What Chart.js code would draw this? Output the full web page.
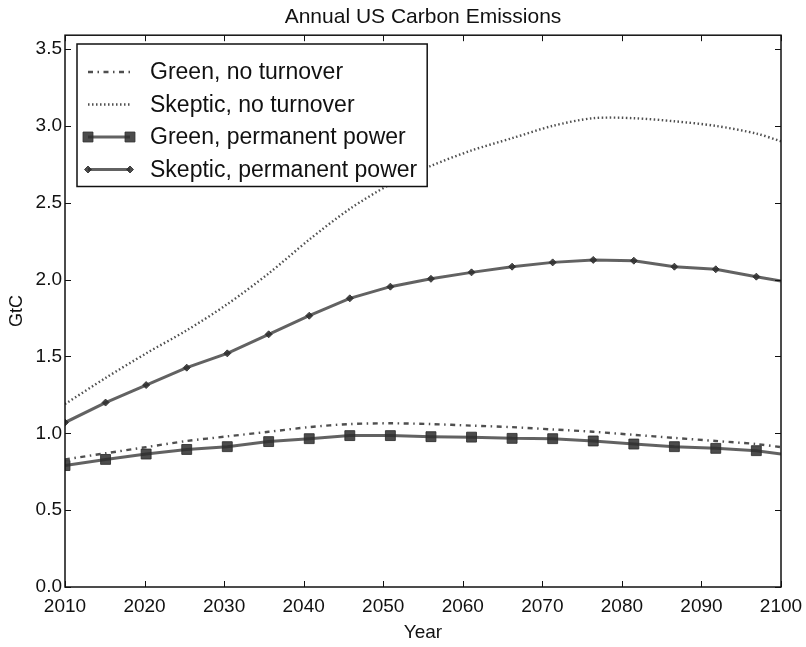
<!DOCTYPE html>
<html>
<head>
<meta charset="utf-8">
<title>Annual US Carbon Emissions</title>
<script src="https://cdn.jsdelivr.net/npm/chart.js@4.4.0/dist/chart.umd.min.js"></script>
<style>
  html, body { margin: 0; padding: 0; background: #fff; }
  #wrap { width: 806px; height: 647px; }
</style>
</head>
<body>
<div id="wrap"><canvas id="chart" width="806" height="647"></canvas></div>
<script>
// model output years (sample points of the runs)
const years = [2010, 2015.1, 2020.2, 2025.3, 2030.4, 2035.6, 2040.7, 2045.8, 2050.9, 2056.0,
  2061.1, 2066.2, 2071.3, 2076.4, 2081.5, 2086.6, 2091.8, 2096.9, 2100];

// annual emissions, GtC
const greenNoTurnover = [0.83, 0.87, 0.91, 0.95, 0.98, 1.01, 1.04, 1.06, 1.065, 1.06,
  1.05, 1.04, 1.025, 1.01, 0.99, 0.97, 0.95, 0.93, 0.91];
const skepticNoTurnover = [1.19, 1.36, 1.52, 1.67, 1.84, 2.04, 2.26, 2.46, 2.62, 2.74,
  2.84, 2.92, 3.00, 3.05, 3.05, 3.03, 3.00, 2.95, 2.90];
const greenPermanent = [0.79, 0.83, 0.865, 0.895, 0.913, 0.946, 0.965, 0.985, 0.985, 0.978,
  0.975, 0.967, 0.965, 0.95, 0.93, 0.913, 0.902, 0.887, 0.865];
const skepticPermanent = [1.07, 1.20, 1.314, 1.427, 1.52, 1.644, 1.765, 1.878, 1.954, 2.005,
  2.047, 2.084, 2.112, 2.128, 2.123, 2.084, 2.067, 2.019, 1.99];

const seriesLabels = ['Green, no turnover', 'Skeptic, no turnover',
  'Green, permanent power', 'Skeptic, permanent power'];

const yTicksShown = [0, 0.5, 1.0, 1.5, 2.0, 2.5, 3.0, 3.5];

const FONT = '"Liberation Sans", Arial, Helvetica, sans-serif';
const lineGray = 'rgba(70,70,70,0.85)';
const markGray = 'rgba(45,45,45,0.85)';

function pairs(ys) {
  return years.map((x, i) => ({ x: x, y: ys[i] }));
}

// the final sample point carries no marker
const markerRadius = r => ctx => (ctx.dataIndex === years.length - 1 ? 0 : r);

// boxed frame with inward ticks on all four sides
const framePlugin = {
  id: 'frame',
  afterDatasetsDraw(chart) {
    const { ctx, chartArea: a, scales } = chart;
    const len = 6;
    ctx.save();
    ctx.strokeStyle = '#111';
    ctx.lineWidth = 1;
    ctx.beginPath();
    scales.x.ticks.forEach(t => {
      const px = Math.round(scales.x.getPixelForValue(t.value)) + 0.5;
      ctx.moveTo(px, a.bottom); ctx.lineTo(px, a.bottom - len);
      ctx.moveTo(px, a.top); ctx.lineTo(px, a.top + len);
    });
    scales.y.ticks.forEach(t => {
      const py = Math.round(scales.y.getPixelForValue(t.value)) + 0.5;
      ctx.moveTo(a.left, py); ctx.lineTo(a.left + len, py);
      ctx.moveTo(a.right, py); ctx.lineTo(a.right - len, py);
    });
    ctx.stroke();
    ctx.lineWidth = 1.5;
    ctx.strokeRect(a.left, a.top, a.right - a.left, a.bottom - a.top);
    ctx.restore();
  }
};

function drawMarker(ctx, ds, x, y) {
  const r = typeof ds.pointRadius === 'function' ? ds.pointRadius({ dataIndex: 0 }) : ds.pointRadius;
  if (!r) return;
  ctx.save();
  ctx.fillStyle = ds.pointBackgroundColor;
  ctx.strokeStyle = ds.pointBorderColor;
  ctx.lineWidth = ds.pointBorderWidth || 1;
  ctx.setLineDash([]);
  ctx.beginPath();
  if (ds.pointStyle === 'rect') {
    const s = Math.SQRT1_2 * r;
    ctx.rect(x - s, y - s, 2 * s, 2 * s);
  } else {
    ctx.moveTo(x, y - r); ctx.lineTo(x + r, y); ctx.lineTo(x, y + r); ctx.lineTo(x - r, y);
    ctx.closePath();
  }
  ctx.fill();
  ctx.stroke();
  ctx.restore();
}

// legend box drawn inside the upper-left of the plot
const insideLegend = {
  id: 'insideLegend',
  afterDraw(chart) {
    const { ctx } = chart;
    const sets = chart.data.datasets;
    const left = 77, top = 44, rowH = 32.5, firstRow = 28;
    const x0 = 88, x1 = 130, textX = 150;
    ctx.save();
    ctx.font = '23px ' + FONT;
    const maxW = Math.max(...sets.map(d => ctx.measureText(d.label).width));
    const right = textX + maxW + 10;
    const bottom = top + firstRow + rowH * (sets.length - 1) + 17;
    ctx.fillStyle = '#fff';
    ctx.fillRect(left, top, right - left, bottom - top);
    ctx.strokeStyle = '#111';
    ctx.lineWidth = 1.5;
    ctx.strokeRect(left, top, right - left, bottom - top);
    sets.forEach((ds, i) => {
      const y = top + firstRow + i * rowH;
      ctx.save();
      ctx.strokeStyle = ds.borderColor;
      ctx.lineWidth = ds.borderWidth;
      ctx.setLineDash(ds.borderDash || []);
      ctx.beginPath();
      ctx.moveTo(x0, y); ctx.lineTo(x1, y);
      ctx.stroke();
      ctx.restore();
      drawMarker(ctx, ds, x0, y);
      drawMarker(ctx, ds, x1, y);
      ctx.fillStyle = '#111';
      ctx.textBaseline = 'middle';
      ctx.fillText(ds.label, textX, y + 1);
    });
    ctx.restore();
  }
};

new Chart(document.getElementById('chart').getContext('2d'), {
  type: 'line',
  data: {
    datasets: [
      {
        label: seriesLabels[0],
        data: pairs(greenNoTurnover),
        borderColor: 'rgba(60,60,60,0.9)',
        borderWidth: 2.4,
        borderDash: [5, 4.5, 1.5, 4.5],
        pointRadius: 0,
        tension: 0.3,
        clip: 0
      },
      {
        label: seriesLabels[1],
        data: pairs(skepticNoTurnover),
        borderColor: 'rgba(60,60,60,0.9)',
        borderWidth: 2.4,
        borderDash: [1.5, 2.5],
        pointRadius: 0,
        tension: 0.3,
        clip: 0
      },
      {
        label: seriesLabels[2],
        data: pairs(greenPermanent),
        borderColor: lineGray,
        borderWidth: 3,
        pointStyle: 'rect',
        pointRadius: markerRadius(7),
        pointBackgroundColor: markGray,
        pointBorderColor: markGray,
        pointBorderWidth: 1,
        tension: 0,
        clip: 0
      },
      {
        label: seriesLabels[3],
        data: pairs(skepticPermanent),
        borderColor: lineGray,
        borderWidth: 3,
        pointStyle: 'rectRot',
        pointRadius: markerRadius(3.5),
        pointBackgroundColor: markGray,
        pointBorderColor: markGray,
        pointBorderWidth: 1,
        tension: 0,
        clip: 0
      }
    ]
  },
  options: {
    responsive: false,
    animation: false,
    events: [],
    layout: { padding: { left: 0, right: 25, top: 0, bottom: 0 } },
    plugins: {
      legend: { display: false },
      tooltip: { enabled: false },
      title: {
        display: true,
        fullSize: false,
        text: 'Annual US Carbon Emissions',
        color: '#111',
        font: { family: FONT, size: 21, weight: 'normal' },
        padding: { top: 5, bottom: 5 }
      }
    },
    scales: {
      x: {
        type: 'linear',
        min: 2010,
        max: 2100,
        grid: { display: false, drawTicks: false },
        border: { display: false },
        afterFit: s => { s.height = 60; s.paddingLeft = 0; s.paddingRight = 0; },
        ticks: {
          stepSize: 10,
          padding: 8,
          color: '#111',
          maxRotation: 0,
          font: { family: FONT, size: 19 },
          callback: v => String(v)
        },
        title: {
          display: true,
          text: 'Year',
          color: '#111',
          font: { family: FONT, size: 19 },
          padding: { top: 0, bottom: 3 }
        }
      },
      y: {
        min: 0,
        max: 3.59,
        grid: { display: false, drawTicks: false },
        border: { display: false },
        afterFit: s => { s.width = 65; },
        afterBuildTicks: s => { s.ticks = yTicksShown.map(v => ({ value: v })); },
        ticks: {
          padding: 3,
          color: '#111',
          font: { family: FONT, size: 19 },
          callback: v => v.toFixed(1)
        },
        title: {
          display: true,
          text: 'GtC',
          color: '#111',
          font: { family: FONT, size: 18 },
          padding: { top: 6, bottom: 0 }
        }
      }
    }
  },
  plugins: [framePlugin, insideLegend]
});
</script>
</body>
</html>
